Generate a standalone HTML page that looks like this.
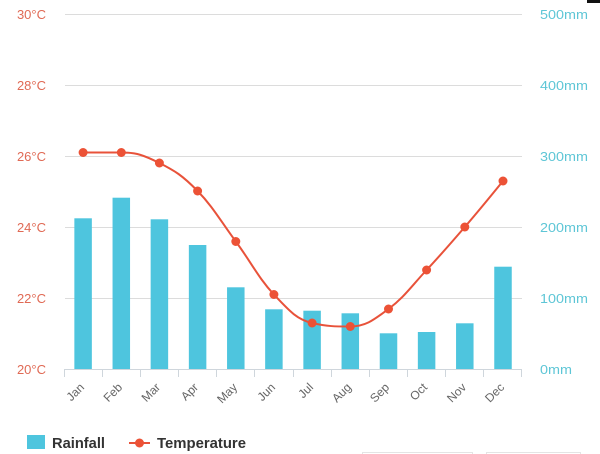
<!DOCTYPE html>
<html><head><meta charset="utf-8"><style>
html,body{margin:0;padding:0;background:#fff;}
svg{display:block;}
</style></head><body>
<svg width="600" height="454" viewBox="0 0 600 454" xmlns="http://www.w3.org/2000/svg" font-family="Liberation Sans, DejaVu Sans, sans-serif">
<rect x="0" y="0" width="600" height="454" fill="#fff"/>
<rect x="587" y="0" width="13" height="3" fill="#111"/>
<!-- gridlines -->
<g stroke="#dcdcdc" stroke-width="1">
<line x1="65" y1="14.5" x2="522" y2="14.5"/>
<line x1="65" y1="85.5" x2="522" y2="85.5"/>
<line x1="65" y1="156.5" x2="522" y2="156.5"/>
<line x1="65" y1="227.5" x2="522" y2="227.5"/>
<line x1="65" y1="298.5" x2="522" y2="298.5"/>
</g>
<!-- bars -->
<g fill="#4ec5de">
<rect x="74.35" y="218.3" width="17.5" height="150.7"/>
<rect x="112.55" y="197.7" width="17.5" height="171.3"/>
<rect x="150.65" y="219.3" width="17.5" height="149.7"/>
<rect x="188.85" y="245" width="17.5" height="124"/>
<rect x="227.05" y="287.3" width="17.5" height="81.7"/>
<rect x="265.15" y="309.3" width="17.5" height="59.7"/>
<rect x="303.35" y="310.7" width="17.5" height="58.3"/>
<rect x="341.55" y="313.3" width="17.5" height="55.7"/>
<rect x="379.75" y="333.3" width="17.5" height="35.7"/>
<rect x="417.85" y="332" width="17.5" height="37"/>
<rect x="456.05" y="323.3" width="17.5" height="45.7"/>
<rect x="494.25" y="266.7" width="17.5" height="102.3"/>
</g>
<!-- x axis -->
<g stroke="#cfd6dc" stroke-width="1">
<line x1="64" y1="369.5" x2="522" y2="369.5"/>
<line x1="64.5" y1="369" x2="64.5" y2="377"/>
<line x1="102.5" y1="369" x2="102.5" y2="377"/>
<line x1="140.5" y1="369" x2="140.5" y2="377"/>
<line x1="178.5" y1="369" x2="178.5" y2="377"/>
<line x1="216.5" y1="369" x2="216.5" y2="377"/>
<line x1="254.5" y1="369" x2="254.5" y2="377"/>
<line x1="293.5" y1="369" x2="293.5" y2="377"/>
<line x1="331.5" y1="369" x2="331.5" y2="377"/>
<line x1="369.5" y1="369" x2="369.5" y2="377"/>
<line x1="407.5" y1="369" x2="407.5" y2="377"/>
<line x1="445.5" y1="369" x2="445.5" y2="377"/>
<line x1="483.5" y1="369" x2="483.5" y2="377"/>
<line x1="521.5" y1="369" x2="521.5" y2="377"/>
</g>
<!-- temperature line -->
<path d="M83.1,152.5 C83.1,152.5 106.0,152.5 121.3,152.5 C136.6,152.5 144.1,155.3 159.4,163 C174.7,170.7 182.3,175.3 197.6,191 C212.9,206.7 220.5,220.8 235.8,241.5 C251.1,262.2 258.6,278.2 273.9,294.5 C289.2,310.8 296.8,319.5 312.1,323 C327.4,326.5 335.0,326.5 350.3,326.5 C365.6,326.5 373.2,320.3 388.5,309 C403.8,297.7 411.3,286.4 426.6,270 C441.9,253.6 449.5,244.8 464.8,227 C480.1,209.2 503.0,181 503.0,181" fill="none" stroke="#e8523a" stroke-width="2"/>
<g fill="#ec5236">
<circle cx="83.1" cy="152.5" r="4.5"/>
<circle cx="121.3" cy="152.5" r="4.5"/>
<circle cx="159.4" cy="163" r="4.5"/>
<circle cx="197.6" cy="191" r="4.5"/>
<circle cx="235.8" cy="241.5" r="4.5"/>
<circle cx="273.9" cy="294.5" r="4.5"/>
<circle cx="312.1" cy="323" r="4.5"/>
<circle cx="350.3" cy="326.5" r="4.5"/>
<circle cx="388.5" cy="309" r="4.5"/>
<circle cx="426.6" cy="270" r="4.5"/>
<circle cx="464.8" cy="227" r="4.5"/>
<circle cx="503.0" cy="181" r="4.5"/>
</g>
<!-- left labels -->
<g fill="#e06a55" font-size="13" text-anchor="end">
<text x="46" y="19">30°C</text>
<text x="46" y="90">28°C</text>
<text x="46" y="161">26°C</text>
<text x="46" y="232">24°C</text>
<text x="46" y="303">22°C</text>
<text x="46" y="374">20°C</text>
</g>
<!-- right labels -->
<g fill="#5ec6d6" font-size="13">
<text x="540" y="19" textLength="48" lengthAdjust="spacingAndGlyphs">500mm</text>
<text x="540" y="90" textLength="48" lengthAdjust="spacingAndGlyphs">400mm</text>
<text x="540" y="161" textLength="48" lengthAdjust="spacingAndGlyphs">300mm</text>
<text x="540" y="232" textLength="48" lengthAdjust="spacingAndGlyphs">200mm</text>
<text x="540" y="303" textLength="48" lengthAdjust="spacingAndGlyphs">100mm</text>
<text x="540" y="374" textLength="32" lengthAdjust="spacingAndGlyphs">0mm</text>
</g>
<!-- x labels -->
<g fill="#666" font-size="12" text-anchor="end">
<text transform="translate(85,388) rotate(-45)">Jan</text>
<text transform="translate(123,388) rotate(-45)">Feb</text>
<text transform="translate(161,388) rotate(-45)">Mar</text>
<text transform="translate(199,388) rotate(-45)">Apr</text>
<text transform="translate(238,388) rotate(-45)">May</text>
<text transform="translate(276,388) rotate(-45)">Jun</text>
<text transform="translate(314,388) rotate(-45)">Jul</text>
<text transform="translate(352,388) rotate(-45)">Aug</text>
<text transform="translate(390,388) rotate(-45)">Sep</text>
<text transform="translate(428,388) rotate(-45)">Oct</text>
<text transform="translate(467,388) rotate(-45)">Nov</text>
<text transform="translate(505,388) rotate(-45)">Dec</text>
</g>
<!-- legend -->
<rect x="27" y="435" width="18" height="14" fill="#4ec5de"/>
<text x="52" y="448" font-size="14.5" font-weight="bold" fill="#333" textLength="53" lengthAdjust="spacingAndGlyphs">Rainfall</text>
<line x1="129" y1="443" x2="150" y2="443" stroke="#e8523a" stroke-width="2"/>
<circle cx="139.5" cy="443" r="4.5" fill="#ec5236"/>
<text x="157" y="448" font-size="14.5" font-weight="bold" fill="#333" textLength="89" lengthAdjust="spacingAndGlyphs">Temperature</text>
<!-- faint boxes bottom right -->
<g fill="none" stroke="#e4e4e4" stroke-width="1">
<rect x="362.5" y="452.5" width="110" height="4"/>
<rect x="486.5" y="452.5" width="94" height="4"/>
</g>
</svg>
</body></html>
